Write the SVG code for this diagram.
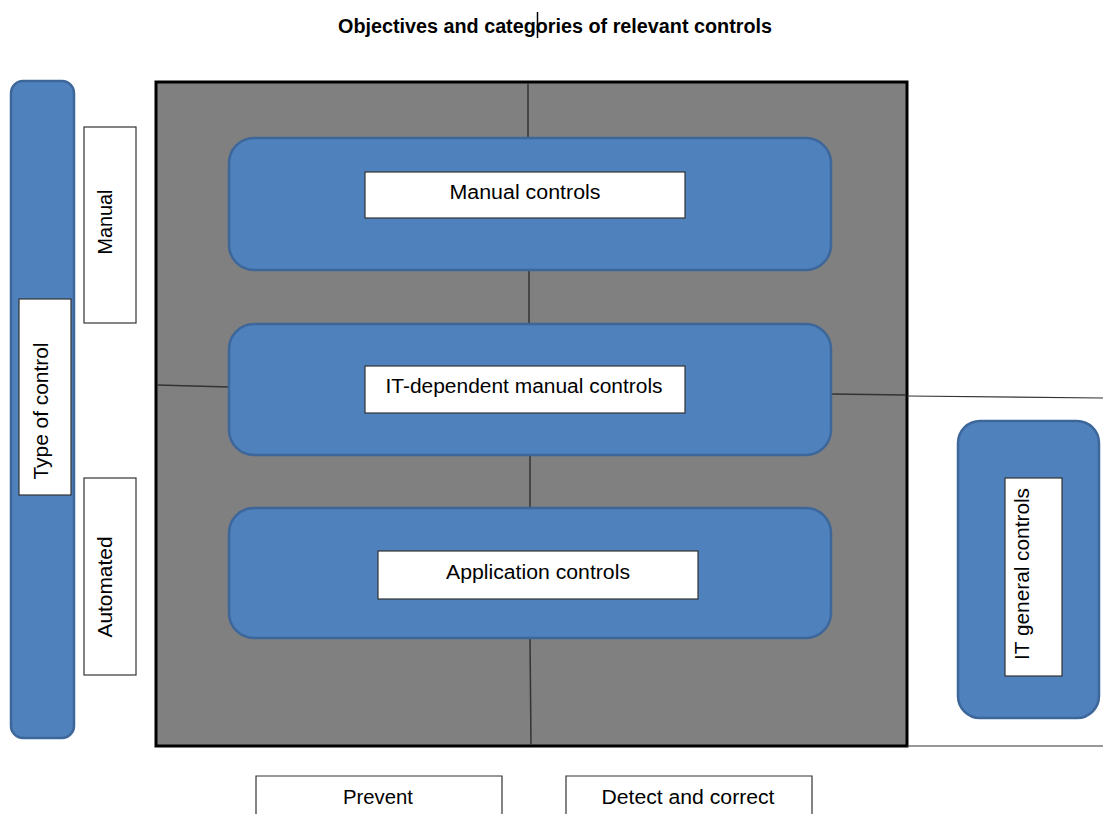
<svg xmlns="http://www.w3.org/2000/svg" width="1103" height="814" viewBox="0 0 1103 814">
<style>
.blue{fill:#4F81BD;stroke:#3D679A;stroke-width:2.5}
.lbl{fill:#fff;stroke:#333;stroke-width:1.2}
.t{font-family:"Liberation Sans",Arial,sans-serif;font-size:20px;fill:#000}
.c{text-anchor:middle}
.ln{stroke:#333;stroke-width:1.5;fill:none}
</style>
<rect width="1103" height="814" fill="#fff"/>
<g id="title">
<text class="t c" x="555" y="33" font-weight="bold" font-size="18" textLength="434" lengthAdjust="spacingAndGlyphs">Objectives and categories of relevant controls</text>
<line x1="537.5" y1="12" x2="537.5" y2="38" stroke="#000" stroke-width="1.5"/>
</g>
<g id="type-of-control">
<rect class="blue" x="11" y="81" width="63" height="657" rx="12"/>
<rect class="lbl" x="19" y="299" width="52" height="196"/>
<text class="t c" transform="translate(41,411) rotate(-90)" y="7" textLength="137" lengthAdjust="spacingAndGlyphs">Type of control</text>
</g>
<g id="manual">
<rect class="lbl" x="84" y="127" width="52" height="196"/>
<text class="t c" transform="translate(104.5,222) rotate(-90)" y="7" textLength="65" lengthAdjust="spacingAndGlyphs">Manual</text>
</g>
<g id="automated">
<rect class="lbl" x="84" y="478" width="52" height="197"/>
<text class="t c" transform="translate(104.5,587) rotate(-90)" y="7" textLength="101" lengthAdjust="spacingAndGlyphs">Automated</text>
</g>
<g id="outer">
<rect x="156" y="82" width="751" height="664" fill="#808080" stroke="#000" stroke-width="3"/>
<path d="M907,396 L1103,398 M907,746 L1103,746" stroke="#333" stroke-width="1.2" fill="none"/>
</g>
<g id="connectors">
<path class="ln" d="M528,83 L528,138"/>
<path class="ln" d="M529,270 L529,324"/>
<path class="ln" d="M530,455 L530,508"/>
<path class="ln" d="M530,638 L531,745"/>
<path class="ln" d="M157,385 L229,387"/>
<path class="ln" d="M831,394 L906,395"/>
</g>
<g id="manual-controls">
<rect class="blue" x="229" y="138" width="602" height="132" rx="25"/>
<rect class="lbl" x="365" y="172" width="320" height="46"/>
<text class="t c" x="525" y="199" textLength="151" lengthAdjust="spacingAndGlyphs">Manual controls</text>
</g>
<g id="it-dependent">
<rect class="blue" x="229" y="324" width="602" height="131" rx="25"/>
<rect class="lbl" x="365" y="366" width="320" height="47"/>
<text class="t c" x="524" y="393" textLength="277" lengthAdjust="spacingAndGlyphs">IT-dependent manual controls</text>
</g>
<g id="application-controls">
<rect class="blue" x="229" y="508" width="602" height="130" rx="25"/>
<rect class="lbl" x="378" y="551" width="320" height="48"/>
<text class="t c" x="538" y="579" textLength="184" lengthAdjust="spacingAndGlyphs">Application controls</text>
</g>
<g id="it-general-controls">
<rect class="blue" x="958" y="421" width="141" height="297" rx="22"/>
<rect class="lbl" x="1005" y="478" width="57" height="198"/>
<text class="t c" transform="translate(1022,574) rotate(-90)" y="7" textLength="172" lengthAdjust="spacingAndGlyphs">IT general controls</text>
</g>
<g id="prevent">
<path d="M256,814 L256,776 L502,776 L502,814" stroke="#333" stroke-width="1.2" fill="#fff"/>
<text class="t c" x="378" y="804" textLength="70" lengthAdjust="spacingAndGlyphs">Prevent</text>
</g>
<g id="detect-and-correct">
<path d="M566,814 L566,776 L812,776 L812,814" stroke="#333" stroke-width="1.2" fill="#fff"/>
<text class="t c" x="688" y="804" textLength="173" lengthAdjust="spacingAndGlyphs">Detect and correct</text>
</g>
</svg>
